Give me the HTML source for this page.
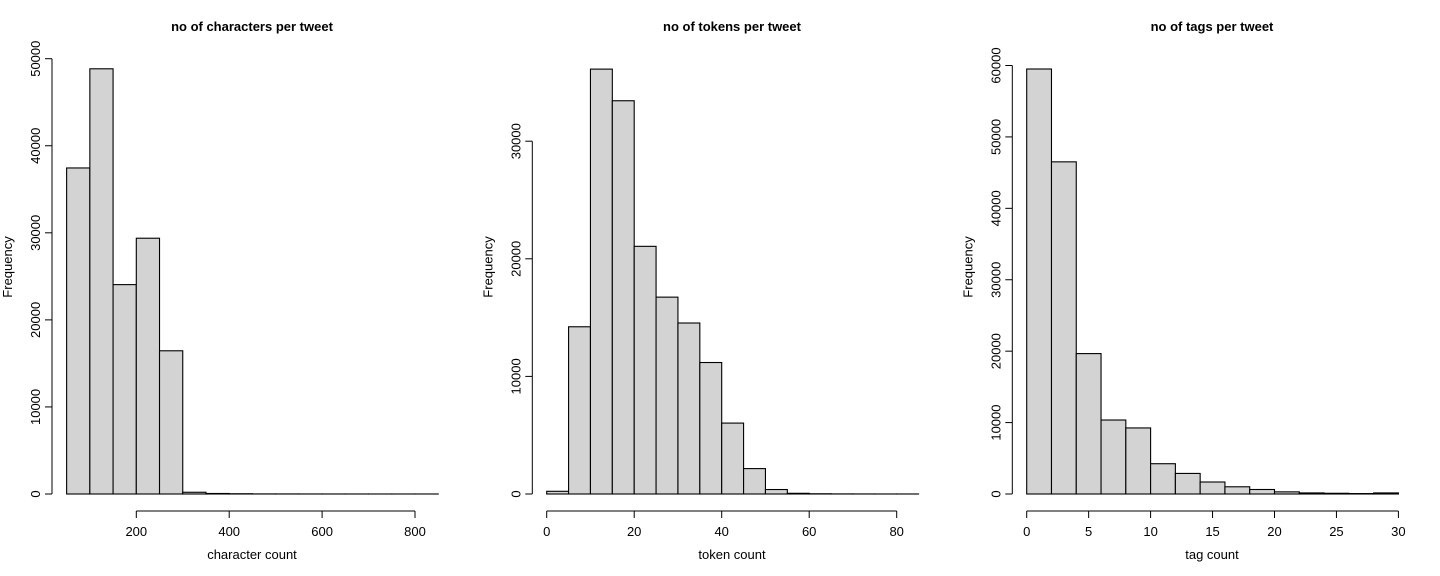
<!DOCTYPE html>
<html><head><meta charset="utf-8"><style>
html,body{margin:0;padding:0;background:#fff;}
svg{display:block;font-family:"Liberation Sans",sans-serif;}
</style></head><body>
<svg id="chart" width="1440" height="576" viewBox="0 0 1440 576" xmlns="http://www.w3.org/2000/svg"></svg>
<script>
// Panel 1: characters
const charBreaks = [50,100,150,200,250,300,350,400,450,500,550,600,650,700,750,800,850];
const charCounts = [37450,48840,24050,29380,16450,200,60,30,10,8,5,4,3,2,2,2];
const charXTicks = [200,400,600,800];
const charYTicks = [0,10000,20000,30000,40000,50000];
// Panel 2: tokens
const tokBreaks = [0,5,10,15,20,25,30,35,40,45,50,55,60,65,70,75,80,85];
const tokCounts = [230,14220,36130,33440,21060,16740,14540,11180,6030,2160,380,60,20,8,5,3,2];
const tokXTicks = [0,20,40,60,80];
const tokYTicks = [0,10000,20000,30000];
// Panel 3: tags
const tagBreaks = [0,2,4,6,8,10,12,14,16,18,20,22,24,26,28,30];
const tagCounts = [59510,46510,19660,10360,9250,4240,2880,1680,1010,630,300,150,100,60,150];
const tagXTicks = [0,5,10,15,20,25,30];
const tagYTicks = [0,10000,20000,30000,40000,50000,60000];

const panels = [
  {key:'characters', title:'no of characters per tweet', xlab:'character count', breaks:charBreaks, counts:charCounts, xt:charXTicks, yt:charYTicks,
   axisX:52, px0:136.3, pv0:200, pxPerUnit:0.4645, pyPerUnit:435.3/50000, center:252},
  {key:'tokens', title:'no of tokens per tweet', xlab:'token count', breaks:tokBreaks, counts:tokCounts, xt:tokXTicks, yt:tokYTicks,
   axisX:532.3, px0:546.7, pv0:0, pxPerUnit:4.375, pyPerUnit:352.8/30000, center:732},
  {key:'tags', title:'no of tags per tweet', xlab:'tag count', breaks:tagBreaks, counts:tagCounts, xt:tagXTicks, yt:tagYTicks,
   axisX:1012.3, px0:1026.7, pv0:0, pxPerUnit:12.39, pyPerUnit:428.5/60000, center:1212}
];
const NS='http://www.w3.org/2000/svg';
const svg=document.getElementById('chart');
const Y0=494, XAXIS_Y=511;
function mk(tag,attrs,parent){const e=document.createElementNS(NS,tag);for(const k in attrs)e.setAttribute(k,attrs[k]);parent.appendChild(e);return e;}
panels.forEach(p=>{
  const g=mk('g',{},svg);
  
  
  const xs=v=>p.px0+(v-p.pv0)*p.pxPerUnit;
  const ys=v=>Y0-v*p.pyPerUnit;
  p.counts.forEach((c,i)=>{
    const x1=xs(p.breaks[i]), x2=xs(p.breaks[i+1]);
    const r=mk('rect',{x:x1,y:ys(c),width:x2-x1,height:Y0-ys(c),fill:'#d3d3d3',stroke:'#000','stroke-width':1.1},g);
    
    
  });
  const ya=mk('g',{},g);
  
  
  const yt=p.yt;
  mk('line',{x1:p.axisX,x2:p.axisX,y1:ys(yt[0]),y2:ys(yt[yt.length-1]),stroke:'#000'},ya);
  yt.forEach(v=>{
    mk('line',{x1:p.axisX-7,x2:p.axisX,y1:ys(v),y2:ys(v),stroke:'#000'},ya);
    const t=mk('text',{x:0,y:0,'font-size':13,'text-anchor':'middle',transform:`translate(${p.axisX-12},${ys(v)}) rotate(-90)`},ya);
    t.textContent=v;
  });
  const xa=mk('g',{},g);
  
  
  const xt=p.xt;
  mk('line',{x1:xs(xt[0]),x2:xs(xt[xt.length-1]),y1:XAXIS_Y,y2:XAXIS_Y,stroke:'#000'},xa);
  xt.forEach(v=>{
    mk('line',{x1:xs(v),x2:xs(v),y1:XAXIS_Y,y2:XAXIS_Y+7,stroke:'#000'},xa);
    const t=mk('text',{x:xs(v),y:XAXIS_Y+25,'font-size':13,'text-anchor':'middle'},xa);
    t.textContent=v;
  });
  const tt=mk('text',{x:p.center,y:31,'font-size':13,'font-weight':'bold','text-anchor':'middle'},g);
  tt.textContent=p.title;
  
  
  const xl=mk('text',{x:p.center,y:559,'font-size':13,'text-anchor':'middle'},g);
  xl.textContent=p.xlab;
  
  
  const yl=mk('text',{x:0,y:0,'font-size':13,'text-anchor':'middle',transform:`translate(${p.axisX-40},267) rotate(-90)`},g);
  yl.textContent='Frequency';
  
  
});
</script>
</body></html>
